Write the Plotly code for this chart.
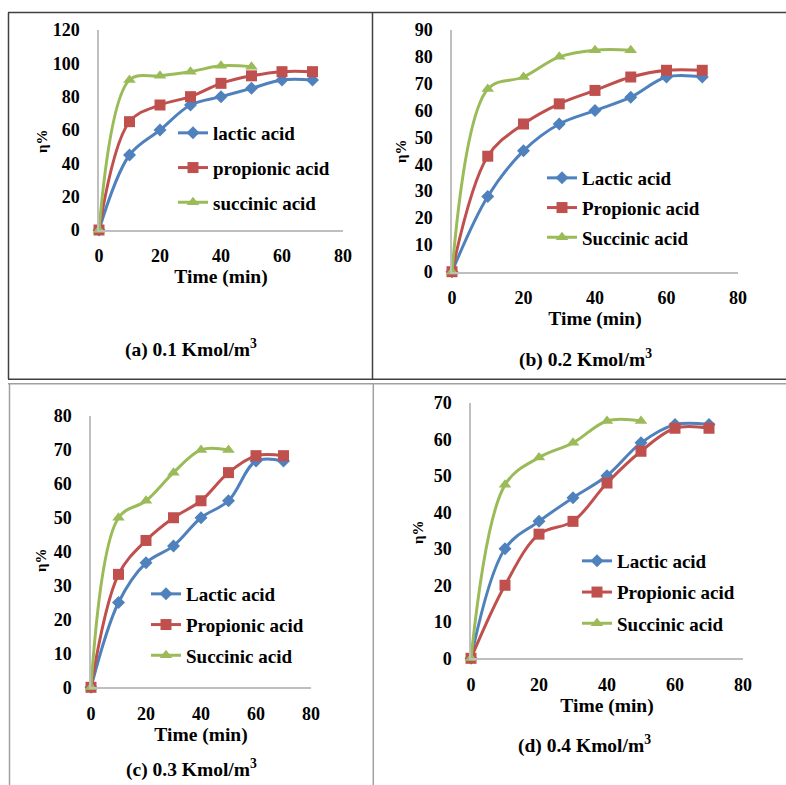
import plotly.graph_objects as go

W, H = 786, 785

time_long = [0, 10, 20, 30, 40, 50, 60, 70]
time_short = [0, 10, 20, 30, 40, 50]

# (a) 0.1 Kmol/m3
a_lactic = [0, 45, 60, 75, 80, 85, 90, 90]
a_propionic = [0, 65, 75, 80, 88, 92.5, 95, 95]
a_succinic = [0, 90, 92.5, 95, 98.5, 98]

# (b) 0.2 Kmol/m3
b_lactic = [0, 28, 45, 55, 60, 65, 72.5, 72.5]
b_propionic = [0, 43, 55, 62.5, 67.5, 72.5, 75, 75]
b_succinic = [0, 68, 72.5, 80, 82.5, 82.5]

# (c) 0.3 Kmol/m3
c_lactic = [0, 25, 36.7, 41.7, 50, 55, 66.7, 66.7]
c_propionic = [0, 33.3, 43.3, 50, 55, 63.3, 68.3, 68.3]
c_succinic = [0, 50, 55, 63.3, 70, 70]

# (d) 0.4 Kmol/m3
d_lactic = [0, 30, 37.5, 44, 50, 59, 64, 64]
d_propionic = [0, 20, 34, 37.5, 48, 56.7, 63, 63]
d_succinic = [0, 47.5, 55, 59, 65, 65]

series_names_a = ["lactic acid", "propionic acid", "succinic acid"]
series_names = ["Lactic acid", "Propionic acid", "Succinic acid"]
subtitles = ["(a) 0.1 Kmol/m<sup>3</sup>", "(b) 0.2 Kmol/m<sup>3</sup>",
             "(c) 0.3 Kmol/m<sup>3</sup>", "(d) 0.4 Kmol/m<sup>3</sup>"]
y_max = [120, 90, 80, 70]
y_dtick = [20, 10, 10, 10]
x_ticks = [0, 20, 40, 60, 80]

COLORS = ["#4F81BD", "#C0504D", "#9BBB59"]
SYMBOLS = ["diamond", "square", "triangle-up"]
MSIZE = [10, 11, 11]
FONT = "Liberation Serif"


def px_x(p):
    return p / W


def px_y(p):
    return 1 - p / H


# panel geometry in pixels: (x0, x1, ytop, ybottom)
panels = [
    (99, 343, 30, 230),
    (452, 738, 30, 271.7),
    (91, 311, 416, 687.3),
    (471, 743, 402.7, 658.3),
]

data_sets = [
    (a_lactic, a_propionic, a_succinic, series_names_a),
    (b_lactic, b_propionic, b_succinic, series_names),
    (c_lactic, c_propionic, c_succinic, series_names),
    (d_lactic, d_propionic, d_succinic, series_names),
]

fig = go.Figure()
legend_ids = ["legend", "legend2", "legend3", "legend4"]

for i, (lac, pro, suc, names) in enumerate(data_sets):
    xa = "x" if i == 0 else f"x{i+1}"
    ya = "y" if i == 0 else f"y{i+1}"
    for j, (xs, ys) in enumerate([(time_long, lac), (time_long, pro), (time_short, suc)]):
        fig.add_trace(go.Scatter(
            x=xs, y=ys, name=names[j], mode="lines+markers",
            line=dict(color=COLORS[j], width=3, shape="spline", smoothing=1),
            marker=dict(symbol=SYMBOLS[j], size=MSIZE[j], color=COLORS[j]),
            xaxis=xa, yaxis=ya, cliponaxis=False,
            legend=legend_ids[i], legendgroup=f"g{i}{j}",
        ))

tickfont = dict(family=FONT, size=18, color="black", weight="bold")
layout = dict(
    width=W, height=H,
    margin=dict(l=0, r=0, t=0, b=0, pad=0, autoexpand=False),
    paper_bgcolor="white", plot_bgcolor="white",
    showlegend=True,
    font=dict(family=FONT, color="black"),
)

for i, (x0, x1, yt, yb) in enumerate(panels):
    sx = "" if i == 0 else str(i + 1)
    layout[f"xaxis{sx}"] = dict(
        domain=[px_x(x0), px_x(x1)], range=[0, 80], tickvals=x_ticks,
        showgrid=False, zeroline=False, showline=True, linecolor="#BFBFBF",
        linewidth=1.5, ticks="", tickfont=tickfont, ticklabelstandoff=9,
        anchor="y" + sx, fixedrange=True, automargin=False,
        title=dict(text="Time (min)", font=dict(family=FONT, size=19.5, weight="bold", color="black"), standoff=3),
    )
    layout[f"yaxis{sx}"] = dict(
        domain=[px_y(yb), px_y(yt)], range=[0, y_max[i]], dtick=y_dtick[i],
        showgrid=False, zeroline=False, showline=True, linecolor="#BFBFBF",
        linewidth=1.5, ticks="", tickfont=tickfont, ticklabelstandoff=14,
        anchor="x" + sx, fixedrange=True, automargin=False,
    )

legend_pos = [(173, 129, 35), (542, 174, 30), (146, 590, 31), (577, 557, 31.5)]
for i, (lx, ly, sp) in enumerate(legend_pos):
    key = "legend" if i == 0 else f"legend{i+1}"
    layout[key] = dict(
        x=px_x(lx), y=px_y(ly - 15), xanchor="left", yanchor="top",
        bgcolor="rgba(0,0,0,0)", borderwidth=0,
        font=dict(family=FONT, size=19, weight="bold", color="black"),
        tracegroupgap=sp - 28, itemclick=False, itemdoubleclick=False,
    )

fig.update_layout(**layout)

# y axis titles
ytitle_pos = [(42, 141), (401, 151), (41, 560), (418, 532)]
for (tx, ty) in ytitle_pos:
    fig.add_annotation(text="<b>η%</b>", x=px_x(tx), y=px_y(ty), xref="paper", yref="paper",
                       xanchor="center", yanchor="middle",
                       showarrow=False, textangle=-90,
                       font=dict(family=FONT, size=15, color="black"))

# subtitles
sub_pos = [(191, 348), (585, 358), (191, 768), (584, 744)]
for k, (tx, ty) in enumerate(sub_pos):
    fig.add_annotation(text=f"<b>{subtitles[k]}</b>", x=px_x(tx), y=px_y(ty),
                       xref="paper", yref="paper", showarrow=False,
                       xanchor="center", yanchor="middle",
                       font=dict(family=FONT, size=19.5, color="black"))

# table borders
dark = "#404040"
gray = "#A0A0A0"
borders = [
    (8, 12.5, 786, 12.5, dark),
    (8.5, 12.5, 8.5, 379, dark),
    (372.5, 12.5, 372.5, 379, dark),
    (8, 379.3, 786, 379.3, dark),
    (8, 383.7, 786, 383.7, gray),
    (9.5, 383.7, 9.5, 785, gray),
    (373.3, 383.7, 373.3, 785, gray),
]
for (x0, y0, x1, y1, c) in borders:
    fig.add_shape(type="line", xref="paper", yref="paper",
                  x0=px_x(x0), y0=px_y(y0), x1=px_x(x1), y1=px_y(y1),
                  line=dict(color=c, width=1.5))

fig.write_html(
    "out.html",
    config={"displayModeBar": False, "responsive": False},
    post_script=(
        "document.documentElement.style.margin='0';"
        "document.documentElement.style.padding='0';"
        "document.documentElement.style.overflow='hidden';"
        "document.body.style.margin='0';document.body.style.padding='0';"
        "document.body.style.overflow='hidden';"
        "var gd=document.querySelector('.plotly-graph-div');"
        "gd.style.position='fixed';gd.style.left='0px';gd.style.top='0px';"
    ),
)
